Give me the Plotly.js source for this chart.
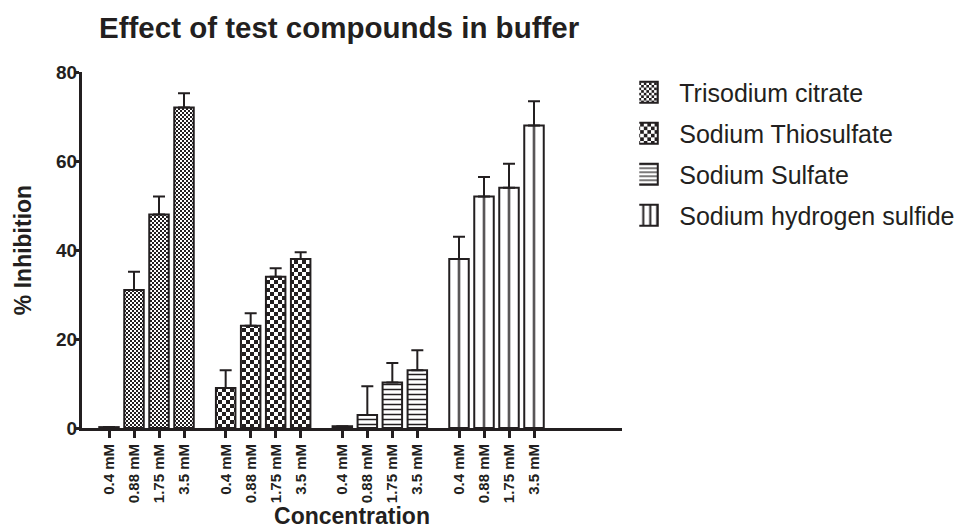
<!DOCTYPE html>
<html><head><meta charset="utf-8">
<script src="https://cdn.plot.ly/plotly-3.0.1.min.js"></script>
<style>html,body{margin:0;padding:0;background:#fff}#chart{width:960px;height:529px}</style>
</head><body><div id="chart"></div>
<script>
// ---- data ----
const concentrations = ['0.4 mM', '0.88 mM', '1.75 mM', '3.5 mM'];
const compounds = ['Trisodium citrate', 'Sodium Thiosulfate', 'Sodium Sulfate', 'Sodium hydrogen sulfide'];
const trisodiumCitrate = [0.2, 31, 48, 72];
const trisodiumCitrateErr = [0, 4.1, 4.0, 3.2];
const sodiumThiosulfate = [9, 23, 34, 38];
const sodiumThiosulfateErr = [4.0, 2.8, 1.9, 1.5];
const sodiumSulfate = [0.4, 2.9, 10.2, 13.0];
const sodiumSulfateErr = [0, 6.5, 4.4, 4.5];
const sodiumHydrogenSulfide = [38, 52, 54, 68];
const sodiumHydrogenSulfideErr = [5.0, 4.4, 5.4, 5.4];

// ---- layout helpers ----
const INK = '#231f20';
const FONT = 'Liberation Sans, Arial, sans-serif';
const GROUP_PITCH = 14 / 3;
const seriesValues = [trisodiumCitrate, sodiumThiosulfate, sodiumSulfate, sodiumHydrogenSulfide];
const seriesErrors = [trisodiumCitrateErr, sodiumThiosulfateErr, sodiumSulfateErr, sodiumHydrogenSulfideErr];
const patterns = [
  {shape: '.', size: 4, solidity: 0.5, fgcolor: 'rgb(1,1,1)', bgcolor: 'white'},
  {shape: '.', size: 8, solidity: 0.5, fgcolor: 'rgb(2,2,2)', bgcolor: 'white'},
  {shape: '-', size: 5, solidity: 0.3, fgcolor: INK, bgcolor: 'white'},
  {shape: '|', size: 25, solidity: 0.08, fgcolor: 'rgb(3,3,3)', bgcolor: 'white'}
];
const positions = compounds.map((c, g) => concentrations.map((_, i) => g * GROUP_PITCH + i));

const traces = compounds.map((name, g) => ({
  type: 'bar',
  name: name,
  legendgroup: name,
  x: positions[g],
  y: seriesValues[g],
  width: 0.78,
  marker: {color: 'white', line: {color: INK, width: 2}, pattern: patterns[g]},
  error_y: {type: 'data', symmetric: false, array: seriesErrors[g],
            arrayminus: seriesErrors[g].map(() => 0), color: INK, thickness: 2, width: 6},
  hoverinfo: 'skip'
}));

const tickvals = [].concat(...positions);
const ticktext = [].concat(...compounds.map(() => concentrations));

const layout = {
  width: 960, height: 529,
  paper_bgcolor: 'white', plot_bgcolor: 'white',
  margin: {l: 82, r: 338, t: 72, b: 101, autoexpand: false},
  font: {family: FONT, color: INK},
  barmode: 'overlay',
  title: {text: 'Effect of test compounds in buffer',
          font: {family: FONT, size: 29.5, weight: 'bold', color: INK},
          xref: 'container', x: 99 / 960, xanchor: 'left',
          yref: 'container', y: 1 - 28 / 529, yanchor: 'middle'},
  showlegend: true,
  legend: {x: 1.032, xanchor: 'left', y: 1.007, yanchor: 'top',
           font: {family: FONT, size: 25, color: INK},
           tracegroupgap: 5.5, traceorder: 'grouped', bgcolor: 'rgba(0,0,0,0)'},
  xaxis: {range: [-1.08, 20.52], tickmode: 'array', tickvals: tickvals, ticktext: ticktext,
          tickangle: -90, tickfont: {family: FONT, size: 15, weight: 'bold', color: INK},
          showline: true, linewidth: 3, linecolor: INK, ticks: 'outside', ticklen: 7,
          tickwidth: 3, tickcolor: INK, showgrid: false, zeroline: false, fixedrange: true,
          title: {text: 'Concentration', font: {family: FONT, size: 23, weight: 'bold', color: INK}, standoff: 4}},
  yaxis: {range: [0, 80], tickmode: 'array', tickvals: [0, 20, 40, 60, 80],
          tickfont: {family: FONT, size: 19, weight: 'bold', color: INK},
          ticklabelstandoff: -7,
          showline: true, linewidth: 3, linecolor: INK, ticks: 'outside', ticklen: 5,
          tickwidth: 3, tickcolor: INK, showgrid: false, zeroline: false, fixedrange: true,
          title: {text: '% Inhibition', font: {family: FONT, size: 23, weight: 'bold', color: INK}, standoff: 19}}
};

const gd = document.getElementById('chart');
Plotly.newPlot(gd, traces, layout, {staticPlot: true, displayModeBar: false}).then(restyleSwatches);

// Turn the library's pattern tiles into checkerboards / centred lines; enlarge legend boxes.
function restyleSwatches() {
  const NS = 'http://www.w3.org/2000/svg';
  const xa = gd._fullLayout.xaxis;
  function rect(p, x, y, w, h, fill) {
    const r = document.createElementNS(NS, 'rect');
    r.setAttribute('x', x); r.setAttribute('y', y);
    r.setAttribute('width', w); r.setAttribute('height', h);
    r.setAttribute('fill', fill);
    p.appendChild(r);
  }
  function clear(p) { while (p.firstChild) p.removeChild(p.firstChild); }
  gd.querySelectorAll('pattern').forEach(p => {
    const html = p.outerHTML.replace(/\s/g, '');
    const isLegend = /legend/i.test(p.id) || /scale/.test(p.getAttribute('patternTransform') || '');
    let c = null;
    if (html.includes('rgb(1,1,1)')) c = isLegend ? 2.6 : 2;
    else if (html.includes('rgb(2,2,2)')) c = isLegend ? 3.6 : 4;
    if (c) {
      p.removeAttribute('patternTransform');
      clear(p);
      p.setAttribute('width', 2 * c); p.setAttribute('height', 2 * c);
      p.setAttribute('x', isLegend ? 0.5 : 0); p.setAttribute('y', isLegend ? 0.5 : 0);
      rect(p, 0, 0, 2 * c, 2 * c, 'white');
      rect(p, 0, 0, c, c, INK);
      rect(p, c, c, c, c, INK);
      return;
    }
    if (html.includes('rgb(3,3,3)')) {
      const period = isLegend ? 7 : 25;
      p.removeAttribute('patternTransform');
      clear(p);
      p.setAttribute('width', period); p.setAttribute('height', period);
      rect(p, 0, 0, period, period, 'white');
      const path = document.createElementNS(NS, 'path');
      path.setAttribute('d', 'M' + period / 2 + ',0V' + period);
      path.setAttribute('stroke', INK);
      path.setAttribute('stroke-width', 2);
      p.appendChild(path);
      if (isLegend) {
        p.setAttribute('x', -period / 2);
      } else {
        const centre = xa.l2p(positions[3][0]);
        p.setAttribute('x', ((centre - period / 2) % period + period) % period);
      }
    }
  });
  // legend swatches: 29 x 21 boxes, like the reference key
  gd.querySelectorAll('.legendpoints path').forEach(path => {
    path.setAttribute('d', 'M14.5,10.5H-14.5V-10.5H14.5Z');
    path.setAttribute('transform', 'translate(4,0)');
  });
}
</script>
</body></html>
